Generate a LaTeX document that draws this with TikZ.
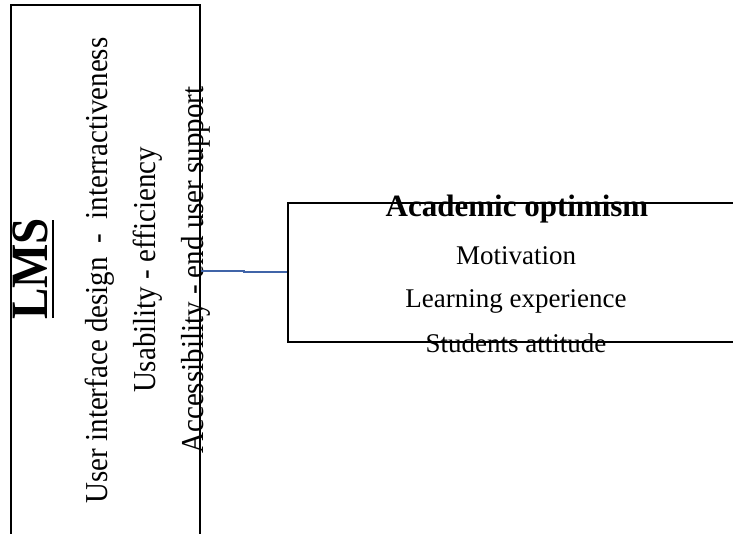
\documentclass[tikz,border=0pt]{standalone}
\usepackage{fontspec}
\setmainfont{Liberation Serif}
\usepackage{graphicx}
\definecolor{linkblue}{RGB}{64,100,168}
\begin{document}
\begin{tikzpicture}[x=1pt,y=-1pt,
  box/.style={draw=black, line width=2pt, rectangle, inner sep=0pt},
  vtext/.style={rotate=90, anchor=base, inner sep=0pt, font=\fontsize{29}{34}\selectfont},
  rtext/.style={anchor=base, inner sep=0pt, font=\fontsize{27}{32}\selectfont},
  conn/.style={draw=linkblue, line width=1.6pt}]
\useasboundingbox (0,0) rectangle (733,533);
\clip (0,0) rectangle (733,533);
% boxes
\node[box, minimum width=189pt, minimum height=540pt] (lms) at (105.5,275) {};
\node[box, minimum width=460pt, minimum height=139pt] (ao) at (518,272) {};
% left box texts
\node[vtext, font=\bfseries\fontsize{50}{60}\selectfont] (lmst) at (47,269) {\scalebox{0.94}[1.05]{LMS}};
\draw[line width=2pt] ([shift={(6pt,2pt)}]lmst.base west) -- ([shift={(6pt,-2pt)}]lmst.base east);
\node[vtext] (t1) at (107,270.5) {\scalebox{1}[1.1]{User interface design\hspace{14pt}-\hspace{14pt}interractiveness}};
\node[vtext] (t2) at (155.5,270) {\scalebox{1}[1.1]{Usability - efficiency}};
\node[vtext] (t3) at (203.5,270) {\scalebox{1}[1.1]{Accessibility - end user support}};
% right box texts
\node[rtext, font=\bfseries\fontsize{31}{36}\selectfont] (h) at (517,216) {Academic optimism};
\node[rtext] (m1) at (516,264) {Motivation};
\node[rtext] (m2) at (516,307.5) {Learning experience};
\node[rtext] (m3) at (516,352) {Students attitude};
% connector
\coordinate (bend) at (244,271);
\draw[conn] (lms.east |- bend) -- (bend) |- (ao.west);
\end{tikzpicture}
\end{document}
